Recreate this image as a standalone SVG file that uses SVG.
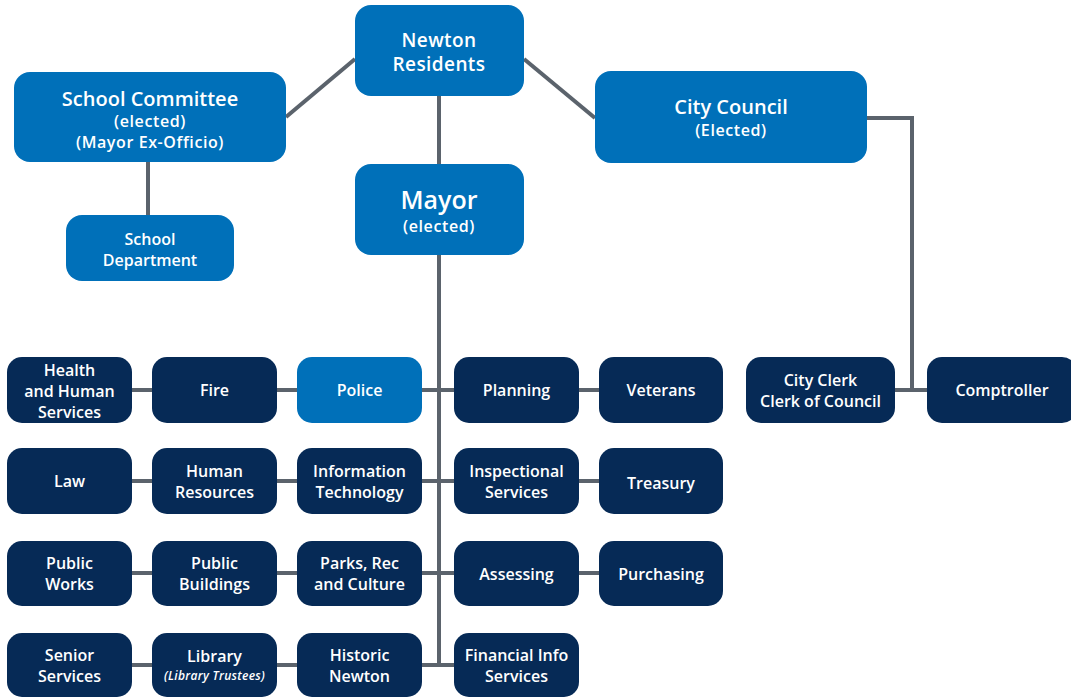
<svg xmlns="http://www.w3.org/2000/svg" width="1071" height="700" viewBox="0 0 1071 700">
<style>
.lb{fill:#0070b9}
.dk{fill:#062a56}
text{font-family:"Open Sans","Liberation Sans",sans-serif;font-weight:600;fill:#ffffff;text-anchor:middle;font-size:16px}
.big{font-size:20px}
.nr{font-size:19px;letter-spacing:0.4px}
.sub{font-size:16px;letter-spacing:0.6px}
.may{font-size:25px}
.it{font-style:italic;font-size:12px;letter-spacing:0.3px}
.c{stroke:#5b636c;stroke-width:4;fill:none}
</style>
<rect width="1071" height="700" fill="#ffffff"/>
<g id="connectors" class="c">
<line x1="355" y1="59" x2="286" y2="117"/>
<line x1="524" y1="59" x2="595" y2="118"/>
<line x1="439" y1="96" x2="439" y2="164"/>
<line x1="148" y1="162" x2="148" y2="215"/>
<line x1="439" y1="255" x2="439" y2="665"/>
<polyline points="867,118 912,118 912,390"/>
<line x1="895" y1="390" x2="927" y2="390"/>
<line x1="132" y1="390" x2="599" y2="390"/>
<line x1="132" y1="481" x2="599" y2="481"/>
<line x1="132" y1="573" x2="599" y2="573"/>
<line x1="132" y1="665" x2="454" y2="665"/>
</g>
<g id="newton-residents"><rect class="lb" x="355" y="5" width="169" height="91" rx="16"/><text class="nr" x="439" y="47">Newton</text><text class="nr" x="439" y="71">Residents</text></g>
<g id="school-committee"><rect class="lb" x="14" y="72" width="272" height="90" rx="16"/><text class="big" x="150" y="106">School Committee</text><text class="sub" x="150" y="127">(elected)</text><text class="sub" x="150" y="148">(Mayor Ex-Officio)</text></g>
<g id="city-council"><rect class="lb" x="595" y="71" width="272" height="92" rx="16"/><text class="big" x="731" y="114">City Council</text><text class="sub" x="731" y="136">(Elected)</text></g>
<g id="mayor"><rect class="lb" x="355" y="164" width="169" height="91" rx="16"/><text class="may" x="439" y="209">Mayor</text><text class="sub" x="439" y="232">(elected)</text></g>
<g id="school-department"><rect class="lb" x="66" y="215" width="168" height="66" rx="16"/><text x="150" y="245">School</text><text x="150" y="266">Department</text></g>

<g id="health"><rect class="dk" x="7" y="357" width="125" height="66" rx="15"/><text x="69.5" y="376">Health</text><text x="69.5" y="397">and Human</text><text x="69.5" y="418">Services</text></g>
<g id="fire"><rect class="dk" x="152" y="357" width="125" height="66" rx="15"/><text x="214.5" y="396">Fire</text></g>
<g id="police"><rect class="lb" x="297" y="357" width="125" height="66" rx="15"/><text x="359.5" y="396">Police</text></g>
<g id="planning"><rect class="dk" x="454" y="357" width="125" height="66" rx="15"/><text x="516.5" y="396">Planning</text></g>
<g id="veterans"><rect class="dk" x="599" y="357" width="124" height="66" rx="15"/><text x="661" y="396">Veterans</text></g>
<g id="city-clerk"><rect class="dk" x="746" y="357" width="149" height="66" rx="15"/><text x="820.5" y="386">City Clerk</text><text x="820.5" y="407">Clerk of Council</text></g>
<g id="comptroller"><rect class="dk" x="927" y="357" width="150" height="66" rx="15"/><text x="1002" y="396">Comptroller</text></g>

<g id="law"><rect class="dk" x="7" y="448" width="125" height="66" rx="15"/><text x="69.5" y="487">Law</text></g>
<g id="human-resources"><rect class="dk" x="152" y="448" width="125" height="66" rx="15"/><text x="214.5" y="477">Human</text><text x="214.5" y="498">Resources</text></g>
<g id="information-technology"><rect class="dk" x="297" y="448" width="125" height="66" rx="15"/><text x="359.5" y="477">Information</text><text x="359.5" y="498">Technology</text></g>
<g id="inspectional-services"><rect class="dk" x="454" y="448" width="125" height="66" rx="15"/><text x="516.5" y="477">Inspectional</text><text x="516.5" y="498">Services</text></g>
<g id="treasury"><rect class="dk" x="599" y="448" width="124" height="66" rx="15"/><text x="661" y="489">Treasury</text></g>

<g id="public-works"><rect class="dk" x="7" y="541" width="125" height="65" rx="15"/><text x="69.5" y="569">Public</text><text x="69.5" y="590">Works</text></g>
<g id="public-buildings"><rect class="dk" x="152" y="541" width="125" height="65" rx="15"/><text x="214.5" y="569">Public</text><text x="214.5" y="590">Buildings</text></g>
<g id="parks"><rect class="dk" x="297" y="541" width="125" height="65" rx="15"/><text x="359.5" y="569">Parks, Rec</text><text x="359.5" y="590">and Culture</text></g>
<g id="assessing"><rect class="dk" x="454" y="541" width="125" height="65" rx="15"/><text x="516.5" y="580">Assessing</text></g>
<g id="purchasing"><rect class="dk" x="599" y="541" width="124" height="65" rx="15"/><text x="661" y="580">Purchasing</text></g>

<g id="senior-services"><rect class="dk" x="7" y="633" width="125" height="64" rx="15"/><text x="69.5" y="661">Senior</text><text x="69.5" y="682">Services</text></g>
<g id="library"><rect class="dk" x="152" y="633" width="125" height="64" rx="15"/><text x="214.5" y="662">Library</text><text class="it" x="214.5" y="680">(Library Trustees)</text></g>
<g id="historic-newton"><rect class="dk" x="297" y="633" width="125" height="64" rx="15"/><text x="359.5" y="661">Historic</text><text x="359.5" y="682">Newton</text></g>
<g id="financial-info"><rect class="dk" x="454" y="633" width="125" height="64" rx="15"/><text x="516.5" y="661">Financial Info</text><text x="516.5" y="682">Services</text></g>
</svg>
